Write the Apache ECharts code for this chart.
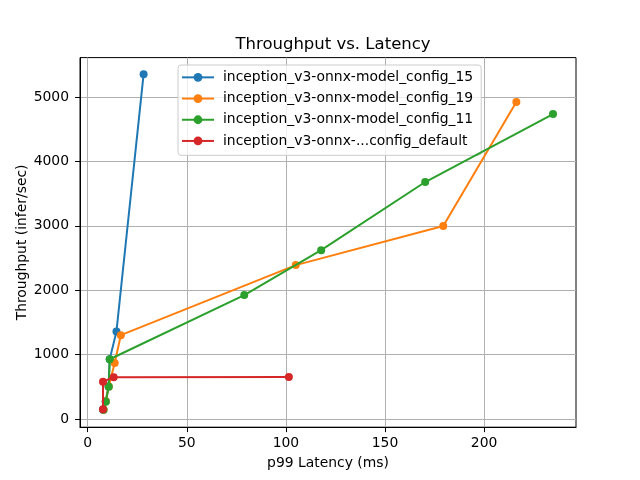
<!DOCTYPE html>
<html><head><meta charset="utf-8">
<script src="https://cdn.jsdelivr.net/npm/echarts@6/dist/echarts.min.js"></script>
<style>html,body{margin:0;padding:0;background:#fff}#c{width:640px;height:480px}</style>
</head><body><div id="c"></div>
<script>
const seriesNames = ["inception_v3-onnx-model_config_15","inception_v3-onnx-model_config_19","inception_v3-onnx-model_config_11","inception_v3-onnx-...config_default"];
const lat15 = [7.7, 9.1, 10.5, 11.1, 14.5, 28.2];
const thr15 = [145, 275, 505, 930, 1360, 5355];
const lat19 = [8.0, 9.1, 10.6, 13.6, 16.7, 105, 179.4, 216.3];
const thr19 = [145, 275, 505, 870, 1302, 2390, 2998, 4922];
const lat11 = [8.0, 9.1, 10.6, 11.1, 79, 117.8, 170.3, 234.8];
const thr11 = [145, 270, 502, 928, 1925, 2622, 3680, 4735];
const latDef = [7.7, 7.7, 13.1, 101.5];
const thrDef = [150, 580, 650, 652];
const xTicks = [0, 50, 100, 150, 200];
const yTicks = [0, 1000, 2000, 3000, 4000, 5000];
const colors = ["#1f77b4","#ff7f0e","#2ca02c","#d62728"];
const zip = (a,b)=>a.map((v,i)=>[v,b[i]]);
const datasets = [zip(lat15,thr15), zip(lat19,thr19), zip(lat11,thr11), zip(latDef,thrDef)];
const font = "DejaVu Sans";
const chart = echarts.init(document.getElementById('c'), null, {renderer:'canvas'});
chart.setOption({
  animation:false,
  backgroundColor:'#fff',
  color: colors,
  textStyle:{fontFamily:font},
  title:{text:'Throughput vs. Latency', left:328, top:31, textAlign:'center',
    textStyle:{fontFamily:font, fontSize:16.5, fontWeight:'normal', color:'#000'}},
  grid:{left:80, right:64, top:57.6, bottom:52.8, containLabel:false, show:true, borderColor:'#000', borderWidth:1},
  legend:{orient:'vertical', left:178, top:65, padding:[4,8,6,3], itemGap:4.5, itemWidth:32, itemHeight:11,
    backgroundColor:'rgba(255,255,255,0.8)', borderColor:'#cccccc', borderWidth:1, borderRadius:3,
    textStyle:{fontFamily:font, fontSize:13.9, lineHeight:16.7, color:'#000', padding:[0,0,0,4]},
    data: seriesNames},
  xAxis:{type:'value', min:-3.9, max:246.4, name:'p99 Latency (ms)', nameLocation:'middle', nameGap:29,
    nameTextStyle:{fontFamily:font, fontSize:13.9, color:'#000'},
    axisLine:{show:true, onZero:false, lineStyle:{color:'#000'}},
    axisTick:{show:true, length:4.9, inside:false, customValues:xTicks, lineStyle:{color:'#000'}},
    axisLabel:{customValues:xTicks, fontFamily:font, fontSize:13.9, color:'#000', margin:9, formatter:v=>String(v)},
    splitLine:{show:true, lineStyle:{color:'#b0b0b0', width:1}}},
  yAxis:{type:'value', min:-127, max:5612, name:'Throughput (infer/sec)', nameLocation:'middle', nameGap:51, nameMoveOverlap:false,
    nameTextStyle:{fontFamily:font, fontSize:13.9, color:'#000'},
    axisLine:{show:true, onZero:false, lineStyle:{color:'#000'}},
    axisTick:{show:true, length:4.9, inside:false, customValues:yTicks, lineStyle:{color:'#000'}},
    axisLabel:{customValues:yTicks, fontFamily:font, fontSize:13.9, color:'#000', margin:11, formatter:v=>String(v)},
    splitLine:{show:true, lineStyle:{color:'#b0b0b0', width:1}}},
  series: seriesNames.map((n,i)=>({
    name:n, type:'line', data:datasets[i], symbol:'circle', symbolSize:8, showSymbol:true,
    lineStyle:{width:2, color:colors[i]}, itemStyle:{color:colors[i]}, z:2+i
  }))
});
</script></body></html>
